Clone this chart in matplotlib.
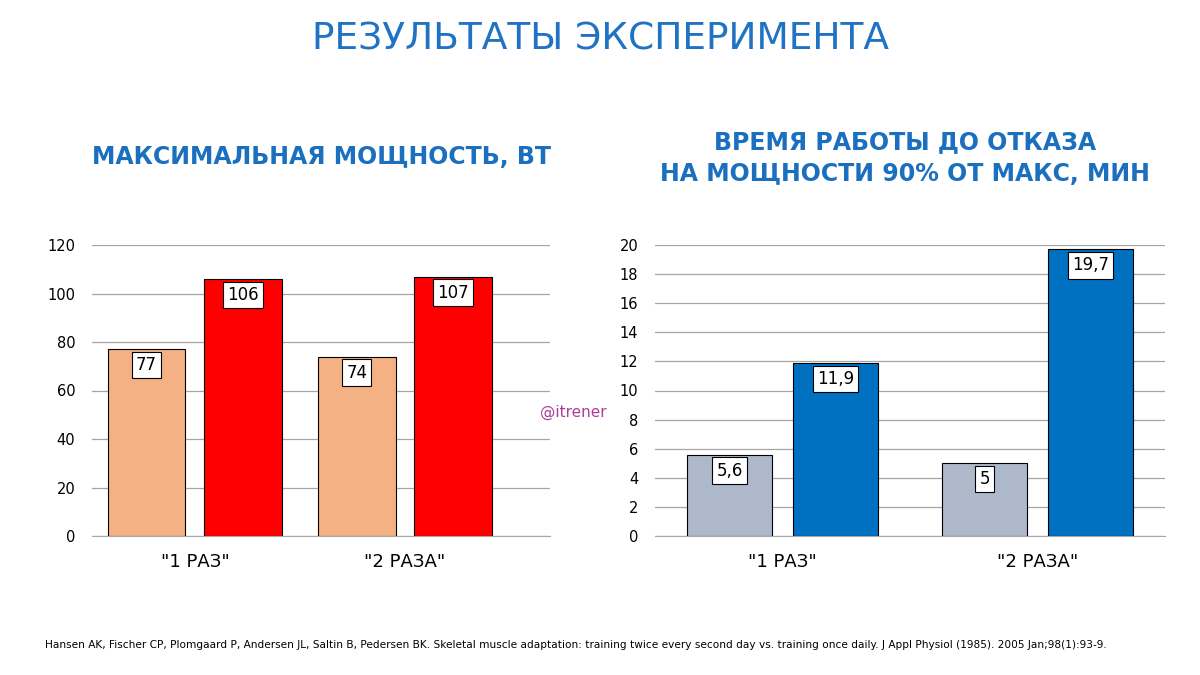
import matplotlib
matplotlib.use("Agg")
import matplotlib.pyplot as plt

categories = ['"1 РАЗ"', '"2 РАЗА"']
power_before = [77, 74]
power_after = [106, 107]
power_labels_before = ["77", "74"]
power_labels_after = ["106", "107"]
time_before = [5.6, 5.0]
time_after = [11.9, 19.7]
time_labels_before = ["5,6", "5"]
time_labels_after = ["11,9", "19,7"]

fig = plt.figure(figsize=(12, 6.75), dpi=100)
fig.patch.set_facecolor("white")
blue = "#1a6fbf"

fig.text(0.5, 1 - 40/675, "РЕЗУЛЬТАТЫ ЭКСПЕРИМЕНТА", ha="center", va="center",
         fontsize=27, color="#1f72c4", family="DejaVu Sans")
fig.text(322/1200, 1 - 157/675, "МАКСИМАЛЬНАЯ МОЩНОСТЬ, ВТ", ha="center", va="center",
         fontsize=17, color=blue, fontweight="bold")
fig.text(905/1200, 1 - 158/675, "ВРЕМЯ РАБОТЫ ДО ОТКАЗА\nНА МОЩНОСТИ 90% ОТ МАКС, МИН", ha="center",
         va="center", fontsize=17, color=blue, fontweight="bold", linespacing=1.45)
fig.text(45/1200, 1 - 645/675,
         "Hansen AK, Fischer CP, Plomgaard P, Andersen JL, Saltin B, Pedersen BK. Skeletal muscle adaptation: "
         "training twice every second day vs. training once daily. J Appl Physiol (1985). 2005 Jan;98(1):93-9.",
         ha="left", va="center", fontsize=7.6, color="black")
fig.text(540/1200, 1 - 412/675, "@itrener", ha="left", va="center", fontsize=11, color="#b03a9a")


def panel(rect, before, after, lb, la, c1, c2, ymax, step, xlim, width, gap):
    ax = fig.add_axes(rect)
    x = list(range(len(categories)))
    off = width/2 + gap/2
    b1 = ax.bar([i - off for i in x], before, width, color=c1, edgecolor="black", linewidth=0.8, zorder=3)
    b2 = ax.bar([i + off for i in x], after, width, color=c2, edgecolor="black", linewidth=0.8, zorder=3)
    for bars, labs in ((b1, lb), (b2, la)):
        for r, t in zip(bars, labs):
            ax.text(r.get_x() + r.get_width()/2, r.get_height() - ymax*0.055, t, ha="center", va="center",
                    fontsize=12, zorder=5,
                    bbox=dict(boxstyle="square,pad=0.25", fc="white", ec="black", lw=0.8))
    ax.set_ylim(0, ymax)
    ax.set_xlim(*xlim)
    ax.set_yticks(range(0, ymax + 1, step))
    ax.set_xticks(x)
    ax.set_xticklabels(categories, fontsize=13)
    ax.tick_params(axis="y", labelsize=10.5, length=0, pad=12)
    ax.tick_params(axis="x", length=0, pad=12)
    ax.grid(axis="y", color="#a6a6a6", linewidth=0.9, zorder=0)
    for s in ("top", "right", "left"):
        ax.spines[s].set_visible(False)
    ax.spines["bottom"].set_color("#a6a6a6")
    return ax

panel([92/1200, 1 - 536/675, 458/1200, 291/675], power_before, power_after,
      power_labels_before, power_labels_after, "#f4b183", "#ff0000", 120, 20,
      (-0.49, 1.69), 0.37, 0.09)
panel([655/1200, 1 - 536/675, 510/1200, 291/675], time_before, time_after,
      time_labels_before, time_labels_after, "#adb9ca", "#0070c0", 20, 2,
      (-0.50, 1.50), 0.335, 0.08)

fig.savefig("out.png", dpi=100)
